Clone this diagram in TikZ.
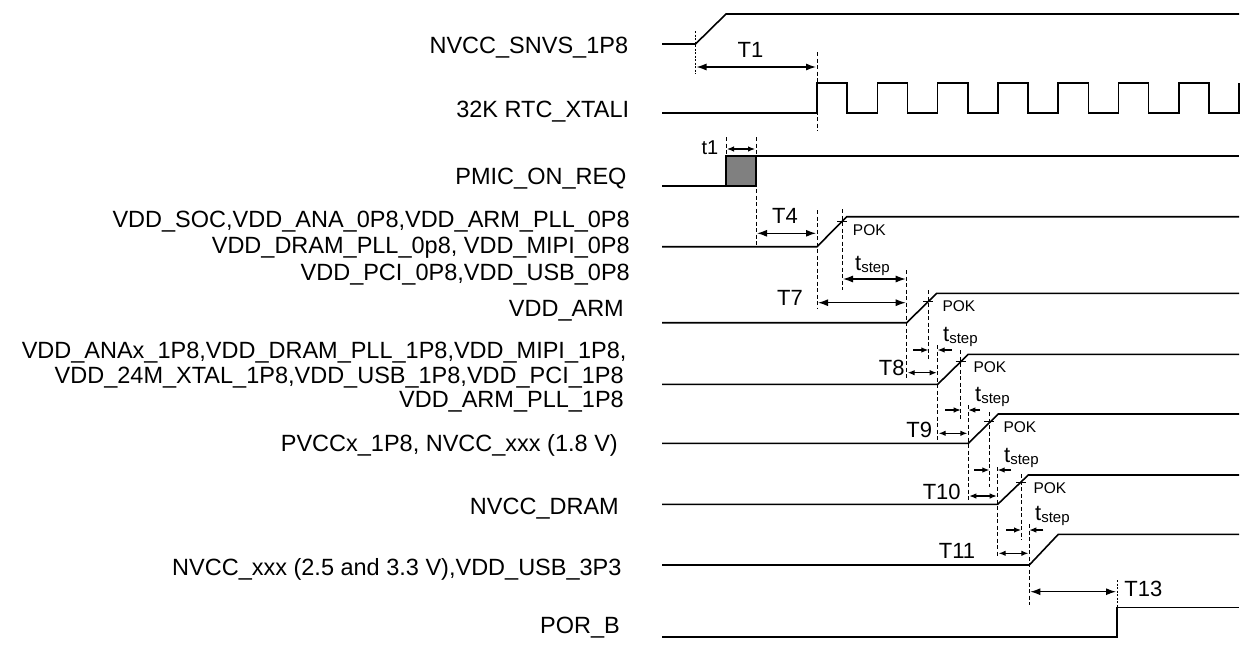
\documentclass[tikz,border=0pt]{standalone}
\usepackage{fontspec}
\setmainfont{Liberation Sans}
\usetikzlibrary{arrows.meta}
\definecolor{boxgray}{RGB}{128,128,128}
\newcommand{\tstepT}{t\raisebox{-2pt}{\fontsize{15}{17}\selectfont step}}
\begin{document}
\begin{tikzpicture}[x=1pt,y=-1pt,
  sig/.style={line width=1.6pt, line join=miter},
  guide/.style={dash pattern=on 4pt off 2.5pt, line width=1pt},
  dotguide/.style={dash pattern=on 2pt off 1.5pt, line width=0.8pt},
  tick/.style={line width=0.9pt},
  dim/.style={{Latex[length=10pt,width=7pt]}-{Latex[length=10pt,width=7pt]}, line width=1.2pt},
  sdim/.style={{Latex[length=7pt,width=5.5pt]}-{Latex[length=7pt,width=5.5pt]}, line width=1.1pt},
  pin/.style={-{Latex[length=7pt,width=5.5pt]}, line width=1.1pt},
  lbl/.style={inner sep=0pt, font=\fontsize{23.5}{26}\selectfont, anchor=base east},
  tl/.style={inner sep=0pt, font=\fontsize{22}{24}\selectfont},
  sl/.style={inner sep=0pt, font=\fontsize{20}{22}\selectfont},
  ts/.style={inner sep=0pt, font=\fontsize{22}{24}\selectfont, anchor=base west},
  pok/.style={inner sep=0pt, font=\fontsize{15.5}{17}\selectfont, anchor=base west},
]
\useasboundingbox (0,0) rectangle (1244,648);

% ---------- signal labels ----------
\node[lbl] (lsnvs) at (628.3,53.3) {NVCC\_SNVS\_1P8};
\node[lbl] (lrtc) at (629.3,117.3) {32K RTC\_XTALI};
\node[lbl] (lpmic) at (626.7,184) {PMIC\_ON\_REQ};
\node[lbl] (lsoca) at (630,227.3) {VDD\_SOC,VDD\_ANA\_0P8,VDD\_ARM\_PLL\_0P8};
\node[lbl] (lsocb) at (630,253.3) {VDD\_DRAM\_PLL\_0p8, VDD\_MIPI\_0P8};
\node[lbl] (lsocc) at (630,280) {VDD\_PCI\_0P8,VDD\_USB\_0P8};
\node[lbl] (larm) at (624,316.7) {VDD\_ARM};
\node[lbl] (lanaa) at (626.7,358.3) {VDD\_ANAx\_1P8,VDD\_DRAM\_PLL\_1P8,VDD\_MIPI\_1P8,};
\node[lbl] (lanab) at (624,383.3) {VDD\_24M\_XTAL\_1P8,VDD\_USB\_1P8,VDD\_PCI\_1P8};
\node[lbl] (lanac) at (624,407.3) {VDD\_ARM\_PLL\_1P8};
\node[lbl] (lpvcc) at (618,451.7) {PVCCx\_1P8, NVCC\_xxx (1.8 V)};
\node[lbl] (ldram) at (619,514) {NVCC\_DRAM};
\node[lbl] (lnvcc) at (621.7,575) {NVCC\_xxx (2.5 and 3.3 V),VDD\_USB\_3P3};
\node[lbl] (lpor) at (620,633.3) {POR\_B};

% ---------- waveforms ----------
% NVCC_SNVS_1P8
\draw[sig] (662,44) -- (695.5,44) -- (726,14) -- (1239,14);
% 32K RTC_XTALI
\draw[sig] (662,113) -- (817,113)
  \foreach \k in {0,...,6} { -- ++(0,-30) -- ++(30.15,0) -- ++(0,30) -- ++(30.15,0) }
  -- ++(0,-30);
% PMIC_ON_REQ
\draw[sig] (662,186) -- (726,186);
\filldraw[sig, fill=boxgray] (726,186) rectangle (756,156);
\draw[sig] (756,156) -- (1239,156);
% VDD_SOC group
\draw[sig] (662,246.7) -- (817,246.7) -- (846.7,216.7) -- (1239,216.7);
% VDD_ARM
\draw[sig] (662,322.7) -- (906.7,322.7) -- (936.7,293.3) -- (1239,293.3);
% VDD_ANAx group
\draw[sig] (662,384.3) -- (937.7,384.3) -- (968.3,354.3) -- (1239,354.3);
% PVCCx
\draw[sig] (662,443.3) -- (968.3,443.3) -- (998.3,414) -- (1239,414);
% NVCC_DRAM
\draw[sig] (662,504.3) -- (997.7,504.3) -- (1028.3,475) -- (1239,475);
% NVCC_xxx 2.5/3.3
\draw[sig] (662,565) -- (1029.3,565) -- (1058.3,534.3) -- (1239,534.3);
% POR_B
\draw[sig] (662,636.7) -- (1117,636.7) -- (1117,607.3) -- (1239,607.3);

% ---------- guide lines ----------
\draw[dotguide] (695.5,31) -- (695.5,74);
\draw[guide] (817,52) -- (817,131);
\draw[guide] (726,137) -- (726,156);
\draw[guide] (756,137) -- (756,246);
\draw[guide] (817,210) -- (817,308);
\draw[guide] (842,209) -- (842,290);
\draw[guide] (906.7,270) -- (906.7,378);
\draw[guide] (928.3,290) -- (928.3,360);
\draw[guide] (937.7,345) -- (937.7,440);
\draw[guide] (960.7,350) -- (960.7,420);
\draw[guide] (968.3,405) -- (968.3,500);
\draw[guide] (989.3,412) -- (989.3,487);
\draw[guide] (997.7,467) -- (997.7,557);
\draw[guide] (1021,474) -- (1021,540);
\draw[guide] (1029.3,524) -- (1029.3,605);
\draw[dotguide] (1117,580) -- (1117,607);

% POK ticks
\draw[tick] (837,221) -- (847,221);
\draw[tick] (923.3,301) -- (933.3,301);
\draw[tick] (955.7,361) -- (965.7,361);
\draw[tick] (984.3,421) -- (994.3,421);
\draw[tick] (1016,482) -- (1026,482);

% ---------- dimension arrows ----------
\draw[dim] (696.5,67) -- (816,67);
\draw[sdim] (727,149) -- (755,149);
\draw[dim] (757,233.3) -- (816,233.3);
\draw[dim] (843,279) -- (905.7,279);
\draw[dim] (818,302.7) -- (905.7,302.7);
\draw[sdim] (907.7,372.7) -- (936.7,372.7);
\draw[sdim] (938.7,433.3) -- (967.3,433.3);
\draw[sdim] (969.3,496) -- (996.7,496);
\draw[sdim] (998.7,553.3) -- (1028.3,553.3);
\draw[dim] (1030.3,591.7) -- (1116,591.7);

\draw[pin] (913,350) -- (928.3,350);
\draw[pin] (951.7,350) -- (937.7,350);
\draw[pin] (945,410) -- (960.7,410);
\draw[pin] (980,410) -- (968.3,410);
\draw[pin] (974,470) -- (989.3,470);
\draw[pin] (1011,470) -- (997.7,470);
\draw[pin] (1006,530) -- (1021,530);
\draw[pin] (1043.3,530) -- (1029.3,530);

% ---------- timing labels ----------
\node[tl] (tT1) at (750.5,50) {T1};
\node[sl] (tt1) at (710,148) {t1};
\node[tl] (tT4) at (785,216) {T4};
\node[tl] (tT7) at (790,298) {T7};
\node[tl] (tT8) at (891.7,368) {T8};
\node[tl] (tT9) at (919.3,430) {T9};
\node[tl] (tT10) at (941.7,492.3) {T10};
\node[tl] (tT11) at (957,551) {T11};
\node[tl] (tT13) at (1143.3,589.3) {T13};

\node[ts] (ts1) at (855,270) {\tstepT};
\node[ts] (ts2) at (943,341) {\tstepT};
\node[ts] (ts3) at (975,401.7) {\tstepT};
\node[ts] (ts4) at (1004,462.7) {\tstepT};
\node[ts] (ts5) at (1035,520) {\tstepT};

\node[pok] (p1) at (852.7,235) {POK};
\node[pok] (p2) at (942.3,311.7) {POK};
\node[pok] (p3) at (973.3,372.6) {POK};
\node[pok] (p4) at (1003.3,432.3) {POK};
\node[pok] (p5) at (1033.3,493.3) {POK};
\end{tikzpicture}
\end{document}
